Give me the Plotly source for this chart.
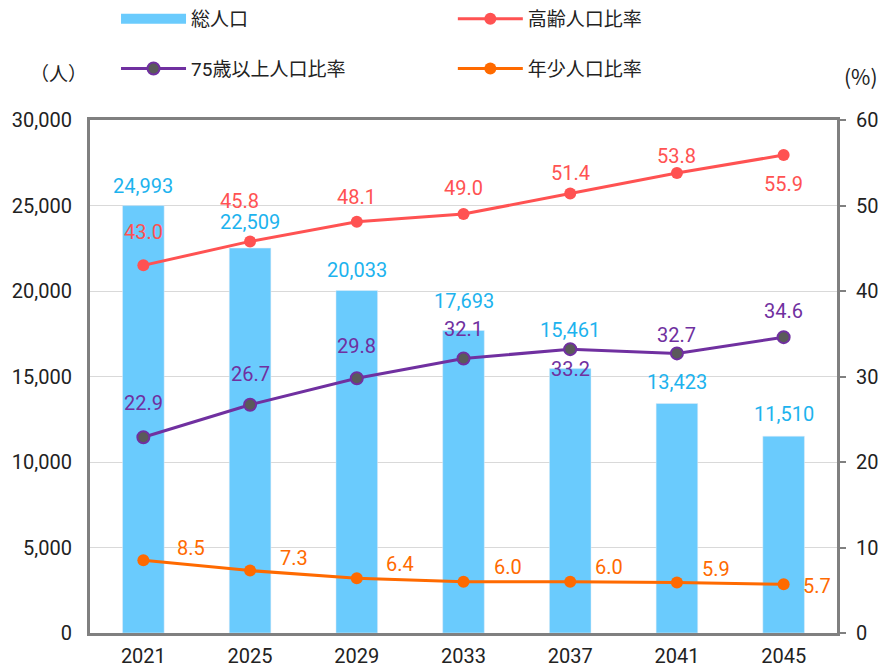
import plotly.graph_objects as go

# ---- data ----
years = ["2021", "2025", "2029", "2033", "2037", "2041", "2045"]
total_pop = [24993, 22509, 20033, 17693, 15461, 13423, 11510]
elderly_ratio = [43.0, 45.8, 48.1, 49.0, 51.4, 53.8, 55.9]
over75_ratio = [22.9, 26.7, 29.8, 32.1, 33.2, 32.7, 34.6]
youth_ratio = [8.5, 7.3, 6.4, 6.0, 6.0, 5.9, 5.7]
left_tickvals = [0, 5000, 10000, 15000, 20000, 25000, 30000]
right_tickvals = [0, 10, 20, 30, 40, 50, 60]

xpos = list(range(len(years)))

# ---- label offsets (style) ----
bar_dy = [20, 26, 20, 29, 39, 21, 22]
eld_dx = [0, -11, 0, 0, 0, 0, 0]
eld_dy = [33, 40, 25, 26, 21, 17, -29]
o75_dy = [34, 31, 32, 30, -20, 18, 26]
you_dx = [48, 44, 43, 44, 39, 39, 33]
you_dy = [12, 13, 14, 15, 15, 14, -2]

NUM = "Roboto, Noto Sans CJK JP, sans-serif"
JP = "Roboto, Noto Sans CJK JP, sans-serif"

C_BAR = "#6ACBFD"
C_BAR_T = "#1DB3EE"
C_ELD = "#FF5252"
C_O75 = "#7030A0"
C_YOU = "#FF6A00"

fig = go.Figure()
fig.add_trace(go.Bar(x=xpos, y=total_pop, marker_color=C_BAR, width=0.39,
                     showlegend=False, name="総人口", yaxis="y"))
# legend-only swatch for bars
fig.add_trace(go.Scatter(x=[None], y=[None], mode="lines", name="総人口",
                         line=dict(color=C_BAR, width=11), legend="legend",
                         legendgroup="a"))
fig.add_trace(go.Scatter(x=xpos, y=elderly_ratio, yaxis="y2", name="高齢人口比率",
                         mode="lines+markers", line=dict(color=C_ELD, width=3),
                         marker=dict(size=12, color=C_ELD), legend="legend2",
                         legendgroup="b"))
fig.add_trace(go.Scatter(x=xpos, y=over75_ratio, yaxis="y2", name="75歳以上人口比率",
                         mode="lines+markers", line=dict(color=C_O75, width=3),
                         marker=dict(size=12, color="#5A5A5A", line=dict(color=C_O75, width=2)),
                         legend="legend", legendgroup="c"))
fig.add_trace(go.Scatter(x=xpos, y=youth_ratio, yaxis="y2", name="年少人口比率",
                         mode="lines+markers", line=dict(color=C_YOU, width=3),
                         marker=dict(size=12, color=C_YOU), legend="legend2",
                         legendgroup="d"))

ann = []
for i in xpos:
    ann.append(dict(x=i, y=total_pop[i], xref="x", yref="y", text=f"{total_pop[i]:,}",
                    showarrow=False, yshift=bar_dy[i], font=dict(color=C_BAR_T, size=20, family=NUM)))
    ann.append(dict(x=i, y=elderly_ratio[i], xref="x", yref="y2", text=f"{elderly_ratio[i]:.1f}",
                    showarrow=False, xshift=eld_dx[i], yshift=eld_dy[i],
                    font=dict(color=C_ELD, size=20, family=NUM)))
    ann.append(dict(x=i, y=over75_ratio[i], xref="x", yref="y2", text=f"{over75_ratio[i]:.1f}",
                    showarrow=False, yshift=o75_dy[i], font=dict(color=C_O75, size=20, family=NUM)))
    ann.append(dict(x=i, y=youth_ratio[i], xref="x", yref="y2", text=f"{youth_ratio[i]:.1f}",
                    showarrow=False, xshift=you_dx[i], yshift=you_dy[i],
                    font=dict(color=C_YOU, size=20, family=NUM)))
ann.append(dict(x=58, y=72, xref="paper", yref="paper", text="（人）", showarrow=False,
                xanchor="center", yanchor="middle",
                font=dict(size=19, color="#222222", family="Noto Sans CJK JP")))
ann.append(dict(x=880, y=76, xref="paper", yref="paper", text="(%)", showarrow=False,
                xanchor="right", yanchor="middle",
                font=dict(size=21, color="#222222", family="Noto Sans CJK JP")))
# convert the two unit labels from pixels to paper coordinates
PL, PR, PT, PB = 90, 837, 120, 633
for a in ann[-2:]:
    a["x"] = (a["x"] - PL) / (PR - PL)
    a["y"] = (PB - a["y"]) / (PB - PT)

fig.update_layout(
    width=881, height=668,
    margin=dict(l=PL, r=881 - PR, t=PT, b=668 - PB, autoexpand=False),
    paper_bgcolor="white", plot_bgcolor="white",
    font=dict(family=NUM, size=20, color="#222222"),
    xaxis=dict(range=[-0.5, 6.5], tickvals=xpos, ticktext=years, showline=True,
               linecolor="#808080", linewidth=3, mirror=True, automargin=False,
               ticks="", showgrid=False, zeroline=False, ticklabelstandoff=3,
               tickfont=dict(size=20, family=NUM)),
    yaxis=dict(range=[0, 30000], tickvals=left_tickvals,
               ticktext=[f"{v:,}" for v in left_tickvals], automargin=False,
               showline=True, linecolor="#808080", linewidth=3, mirror=False,
               showgrid=True, gridcolor="#D9D9D9", gridwidth=1, zeroline=False,
               ticks="", ticklabelstandoff=11, tickfont=dict(size=20, family=NUM)),
    yaxis2=dict(range=[0, 60], tickvals=right_tickvals, overlaying="y", side="right",
                showline=True, linecolor="#808080", linewidth=3, showgrid=False, zeroline=False,
                ticks="outside", ticklen=6, tickcolor="#808080", tickwidth=2, automargin=False,
                ticklabelstandoff=6, tickfont=dict(size=20, family=NUM)),
    legend=dict(x=0.1317, y=1.0, xref="container", yref="container",
                xanchor="left", yanchor="top", orientation="v",
                tracegroupgap=22, font=dict(size=19, family=JP), itemwidth=65,
                bgcolor="rgba(0,0,0,0)"),
    legend2=dict(x=0.514, y=1.0, xref="container", yref="container",
                 xanchor="left", yanchor="top", orientation="v",
                 tracegroupgap=22, font=dict(size=19, family=JP), itemwidth=65,
                 bgcolor="rgba(0,0,0,0)"),
    annotations=ann,
)

fig.write_html("out.html", config={"displayModeBar": False},
               post_script="document.body.style.margin='0';document.body.style.overflow='hidden';")
